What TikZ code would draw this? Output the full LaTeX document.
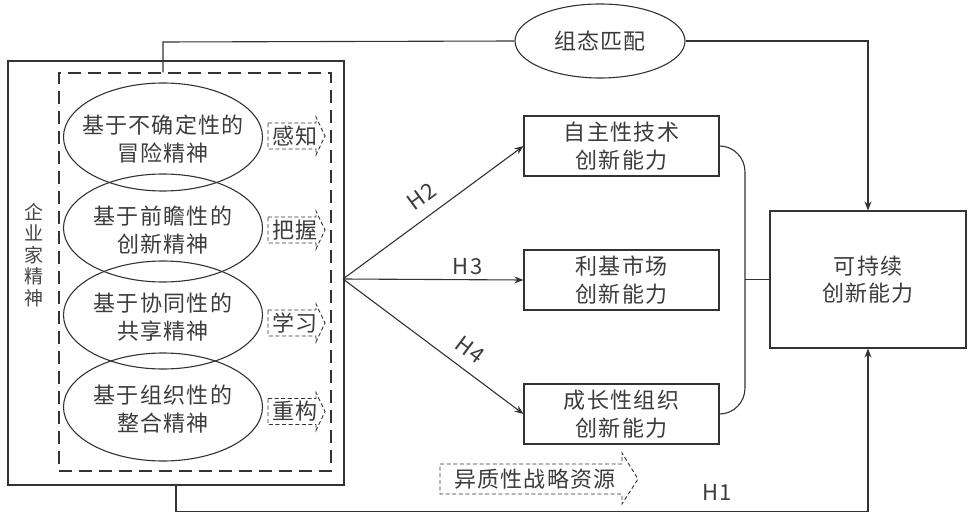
\documentclass[tikz,border=0pt]{standalone}
\usepackage{fontspec}
\setmainfont[LetterSpace=6]{Noto Sans CJK SC}
\usetikzlibrary{shapes.geometric,calc,arrows.meta}
\definecolor{ln}{HTML}{333333}
\definecolor{tx}{HTML}{3C3C3C}
\tikzset{
  base/.style={draw=ln, line width=1.1pt, text=tx, align=center, inner sep=0pt,
    font=\fontsize{22}{27.5}\selectfont},
  ell/.style={draw=ln, line width=1.1pt, ellipse, inner sep=0pt, minimum width=199pt, minimum height=108pt},
  etext/.style={text=tx, align=center, inner sep=0pt, font=\fontsize{22}{28}\selectfont},
  boxn/.style={base, rectangle, minimum width=195pt, minimum height=60pt},
  tagtext/.style={text=tx, inner sep=0pt, font=\fontsize{22}{27}\selectfont},
  tagline/.style={draw=ln, line width=0.9pt, dash pattern=on 4pt off 2.6pt},
  conn/.style={draw=ln, line width=1.1pt},
  arr/.style={conn, -{Stealth[length=9pt,width=7pt]}},
  hlab/.style={text=tx, inner sep=0pt, font=\fontsize{22}{26}\selectfont},
}
\newcommand{\tagshape}[1]{%
  \draw[tagline] ($(#1)+(-27,-13)$) -- ($(#1)+(21,-13)$) -- ($(#1)+(21,-19)$)
    -- ($(#1)+(30,0)$) -- ($(#1)+(21,19)$) -- ($(#1)+(21,13)$)
    -- ($(#1)+(-27,13)$) -- cycle;}
\begin{document}
\begin{tikzpicture}[x=1pt,y=-1pt]
\useasboundingbox[fill=white] (0,0) rectangle (969,513);

% left frame
\node[draw=ln, line width=1.2pt, minimum width=336pt, minimum height=424pt, inner sep=0pt] (outer) at (176,273) {};
\node[draw=ln, line width=1.2pt, dash pattern=on 13pt off 7pt, minimum width=272pt, minimum height=398pt, inner sep=0pt] (dash) at (195,272) {};
\node[text=tx!85!gray, align=center, inner sep=0pt, font=\fontsize{19}{21.5}\selectfont] (qyj) at (34,255) {企\\业\\家\\精\\神};

% ellipses
\node[ell] (e1) at (163,137) {};
\node[ell] (e2) at (163,228) {};
\node[ell] (e3) at (163,315) {};
\node[ell] (e4) at (163,407) {};
\node[etext] (t1) at (163,139) {基于不确定性的\\冒险精神};
\node[etext] (t2) at (163,230) {基于前瞻性的\\创新精神};
\node[etext] (t3) at (163,317) {基于协同性的\\共享精神};
\node[etext] (t4) at (163,409) {基于组织性的\\整合精神};

% small tags
\node[tagtext] (a1) at (295,136) {感知};
\node[tagtext] (a2) at (295,230) {把握};
\node[tagtext] (a3) at (295,323) {学习};
\node[tagtext] (a4) at (295,411.5) {重构};
\tagshape{a1}\tagshape{a2}\tagshape{a3}\tagshape{a4}

% config ellipse
\node[base, ellipse, minimum width=170pt, minimum height=74pt] (cm) at (600,41) {组态匹配};

% middle boxes
\node[boxn] (b1) at (621.5,146) {自主性技术\\创新能力};
\node[boxn] (b2) at (621.5,280) {利基市场\\创新能力};
\node[boxn] (b3) at (621.5,414) {成长性组织\\创新能力};

% right box
\node[base, rectangle, minimum width=196pt, minimum height=137pt] (sus) at (868,279.5) {可持续\\创新能力};

% heterogeneous resources tag
\node[tagtext] (het) at (535,479) {异质性战略资源};
\draw[tagline] ($(het)+(-95,-15)$) -- ($(het)+(87,-15)$) -- ($(het)+(87,-26)$)
    -- ($(het)+(103,0)$) -- ($(het)+(87,25)$) -- ($(het)+(87,15)$)
    -- ($(het)+(-95,15)$) -- cycle;

% connectors
\coordinate (fan) at (343,279);
\draw[arr] (fan) -- (b1.west) node[hlab, pos=0.50, sloped, anchor=south, yshift=11pt] {H2};
\draw[arr] (fan) -- (b2.west) node[hlab, pos=0.69, anchor=south, yshift=4pt] {H3};
\draw[arr] (fan) -- (b3.west) node[hlab, pos=0.64, sloped, anchor=south, yshift=11pt] {H4};

\coordinate (bt) at (745,172);
\coordinate (bb) at (745,388);
\draw[conn] (b1.east) to[out=0,in=90] (bt) -- (bb) to[out=-90,in=0] (b3.east);
\draw[conn] (bt |- sus.west) -- (sus.west);

\draw[conn] (e1 |- dash.north) -- (e1 |- 0,42) -- (cm.west);
\draw[arr] (cm.east) -| (sus.north);

\coordinate (bl) at (176,511.5);
\draw[arr] (outer.south) -- (bl) -| (sus.south);
\node[hlab] (h1) at (717,492) {H1};
\end{tikzpicture}
\end{document}
